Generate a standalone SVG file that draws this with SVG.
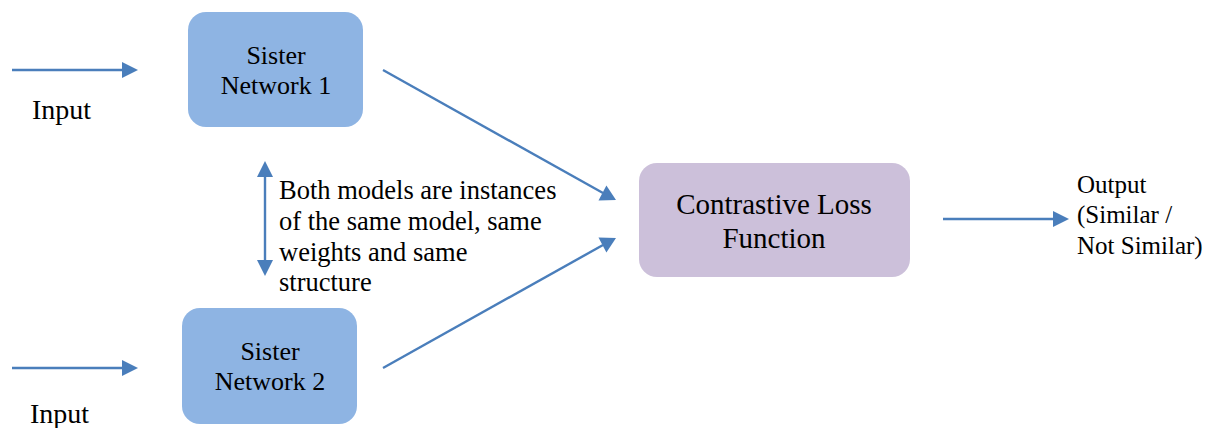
<svg xmlns="http://www.w3.org/2000/svg" width="1216" height="428" viewBox="0 0 1216 428">
<style>
text{fill:#000}
.n{font-size:26px;text-anchor:middle}
.big{font-size:29px;text-anchor:middle}
.in{font-size:28px}
.note{font-size:26.5px}
.out{font-size:25px}
.c{stroke:#4A7EBB;stroke-width:2.4;fill:none}
.h{fill:#4A7EBB}
</style>
<rect width="1216" height="428" fill="#fff"/>
<g id="connectors">
<line class="c" x1="12" y1="70" x2="122" y2="70"/>
<path class="h" d="M122,62 L138,70 L122,78 z"/>
<line class="c" x1="12" y1="368" x2="122" y2="368"/>
<path class="h" d="M122,360 L138,368 L122,376 z"/>
<line class="c" x1="943" y1="219" x2="1053" y2="219"/>
<path class="h" d="M1053,211 L1069,219 L1053,227 z"/>
<line class="c" x1="383" y1="70" x2="603" y2="193"/>
<path class="h" d="M598.5,200.4 L616,200 L606.4,185.4 z"/>
<line class="c" x1="383" y1="368" x2="603" y2="245"/>
<path class="h" d="M598.5,237.6 L616,238 L606.4,252.6 z"/>
<line class="c" x1="265" y1="176" x2="265" y2="261"/>
<path class="h" d="M257,177 L265,161 L273,177 z"/>
<path class="h" d="M257,260 L265,276 L273,260 z"/>
</g>
<g id="input1" style="font-family:'Liberation Serif','Times New Roman',serif"><text class="in" x="32" y="119">Input</text></g>
<g id="input2" style="font-family:'Liberation Serif','Times New Roman',serif"><text class="in" x="30" y="423">Input</text></g>
<g id="sister1" style="font-family:'Liberation Serif','Times New Roman',serif">
<rect x="188" y="12" width="175" height="115" rx="18" fill="#8EB4E3"/>
<text class="n" x="276" y="64">Sister</text>
<text class="n" x="276" y="94">Network 1</text>
</g>
<g id="sister2" style="font-family:'Liberation Serif','Times New Roman',serif">
<rect x="182" y="308" width="175" height="116" rx="18" fill="#8EB4E3"/>
<text class="n" x="270" y="360">Sister</text>
<text class="n" x="270" y="390">Network 2</text>
</g>
<g id="loss" style="font-family:'Liberation Serif','Times New Roman',serif">
<rect x="639" y="163" width="271" height="114" rx="18" fill="#CCC0DA"/>
<text class="big" x="774" y="214">Contrastive Loss</text>
<text class="big" x="774" y="248">Function</text>
</g>
<g id="note" style="font-family:'Liberation Serif','Times New Roman',serif">
<text class="note" x="279" y="199">Both models are instances</text>
<text class="note" x="279" y="230">of the same model, same</text>
<text class="note" x="279" y="261">weights and same</text>
<text class="note" x="279" y="291">structure</text>
</g>
<g id="output" style="font-family:'Liberation Serif','Times New Roman',serif">
<text class="out" x="1077" y="193">Output</text>
<text class="out" x="1077" y="223">(Similar /</text>
<text class="out" x="1077" y="254">Not Similar)</text>
</g>
</svg>
